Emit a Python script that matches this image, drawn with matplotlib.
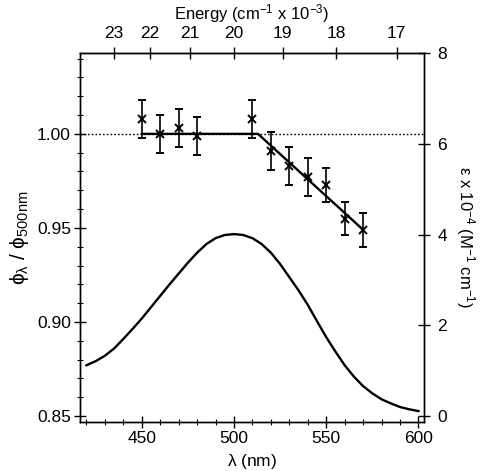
import numpy as np
import matplotlib
matplotlib.use("Agg")
import matplotlib.pyplot as plt
from matplotlib.ticker import MultipleLocator, FixedLocator

plt.rcParams['font.family'] = ['Liberation Sans', 'DejaVu Sans']
plt.rcParams['mathtext.fontset'] = 'custom'
plt.rcParams['mathtext.rm'] = 'Liberation Sans'
plt.rcParams['mathtext.it'] = 'Liberation Sans'

# quantum yield ratio data
wl_pts = [450, 460, 470, 480, 510, 520, 530, 540, 550, 560, 570]
phi_ratio = [1.008, 1.000, 1.003, 0.999, 1.008, 0.991, 0.983, 0.977, 0.973, 0.955, 0.949]
phi_err = [0.010, 0.010, 0.010, 0.010, 0.010, 0.010, 0.010, 0.010, 0.009, 0.009, 0.009]

# fit line
fit_wl = [450, 513, 570]
fit_phi = [1.000, 1.000, 0.949]

# absorption spectrum (epsilon x 1e-4)
spec_wl = [420, 425, 430, 435, 440, 445, 450, 455, 460, 465, 470, 475, 480, 485, 490,
           495, 500, 505, 510, 515, 520, 525, 530, 535, 540, 545, 550, 555, 560, 565,
           570, 575, 580, 585, 590, 595, 600]
spec_eps = [1.12, 1.21, 1.33, 1.49, 1.70, 1.92, 2.15, 2.40, 2.65, 2.90, 3.14, 3.38, 3.60,
            3.79, 3.92, 3.99, 4.01, 3.99, 3.92, 3.79, 3.60, 3.35, 3.06, 2.77, 2.45, 2.09,
            1.74, 1.42, 1.12, 0.87, 0.66, 0.50, 0.37, 0.28, 0.20, 0.15, 0.11]

x_ticks = [450, 500, 550, 600]
left_ticks = [0.85, 0.90, 0.95, 1.00]
right_ticks = [0, 2, 4, 6, 8]
energy_ticks = [17, 18, 19, 20, 21, 22, 23]

fig = plt.figure(figsize=(4.88, 4.71), dpi=100)
ax = fig.add_axes([80/488, 1-422/471, 344/488, 369/471])
ax2 = ax.twinx()

ax.set_xlim(416.5, 603)
ax.set_ylim(0.8468, 1.043)
ax2.set_ylim(-0.13, 8.0)

ax.axhline(1.0, color='black', lw=1.0, ls=(0, (1.2, 1.5)))
ax.plot(fit_wl, fit_phi, color='black', lw=1.7)
ax.errorbar(wl_pts, phi_ratio, yerr=phi_err, fmt='x', color='black', ms=6, mew=1.4,
            elinewidth=1.2, capsize=3, capthick=1.2)

ax2.plot(spec_wl, spec_eps, color='black', lw=1.7)

ax.set_xticks(x_ticks)
ax.xaxis.set_minor_locator(MultipleLocator(10))
ax.set_yticks(left_ticks)
ax.set_yticklabels(['0.85', '0.90', '0.95', '1.00'])
ax.yaxis.set_minor_locator(MultipleLocator(0.01))
ax2.set_yticks(right_ticks)

TS = 12.5
for a in (ax, ax2):
    a.tick_params(which='major', direction='inout', length=9, width=1, labelsize=TS, color='black')
    a.tick_params(which='minor', direction='inout', length=5, width=0.8)
    for s in a.spines.values():
        s.set_linewidth(1.0)
ax.tick_params(axis='x', pad=2)
ax.tick_params(axis='y', pad=2)
ax2.tick_params(axis='y', pad=5)

def wl2e(x):
    x = np.asarray(x, dtype=float)
    with np.errstate(divide='ignore', invalid='ignore'):
        return 1e4 / x

secax = ax.secondary_xaxis('top', functions=(wl2e, wl2e))
secax.xaxis.set_major_locator(FixedLocator(energy_ticks))
secax.tick_params(which='major', direction='inout', length=9, width=1, labelsize=TS, pad=4)
secax.xaxis.set_minor_locator(FixedLocator([]))
secax.set_xlabel(r'Energy (cm$^{-1}$ x 10$^{-3}$)', fontsize=12, labelpad=5)

ax.set_xlabel(r'$\lambda$ (nm)', fontsize=12.5, labelpad=4)
ax.set_ylabel(r'$\phi_{\lambda}$ / $\phi_{500nm}$', fontsize=15, labelpad=4)
ax2.set_ylabel(r'$\epsilon$ x 10$^{-4}$ (M$^{-1}$ cm$^{-1}$)', fontsize=12, rotation=270, labelpad=22)

fig.savefig('out.png', dpi=100)
